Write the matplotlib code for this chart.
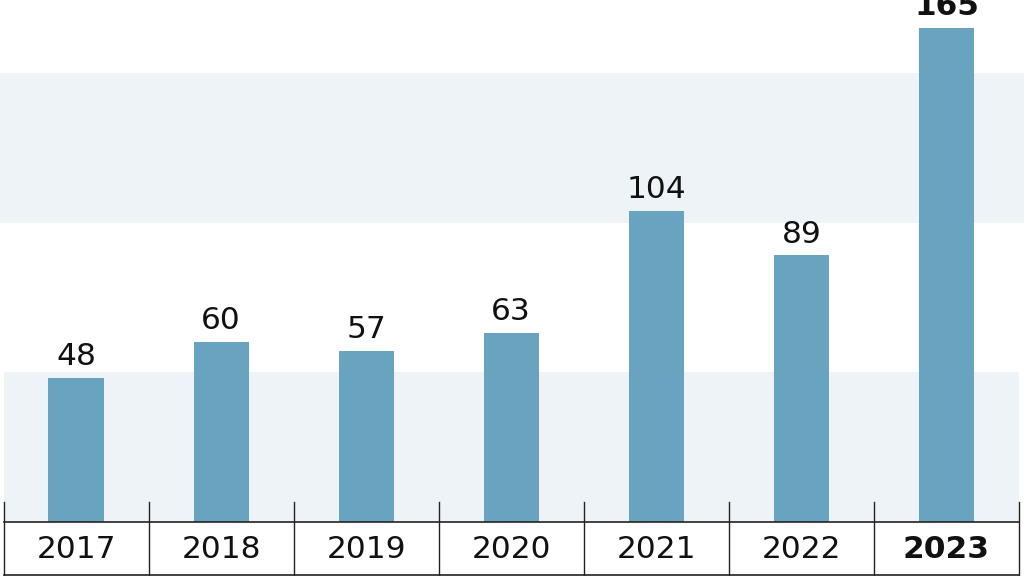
import matplotlib
matplotlib.use('Agg')
import matplotlib.pyplot as plt
from matplotlib.transforms import blended_transform_factory

years = ['2017', '2018', '2019', '2020', '2021', '2022', '2023']
values = [48, 60, 57, 63, 104, 89, 165]
bands = [(0, 50), (100, 150)]

BAR = '#68a3c0'
BAND = '#eef3f8'
LINE = '#222222'

plt.rcParams['font.family'] = ['DejaVu Sans']

fig = plt.figure(figsize=(10.24, 5.76), dpi=100)
ax = fig.add_axes([3.5 / 1024, 54 / 576, 1015.5 / 1024, 522 / 576])
ax.set_xlim(-0.5, len(years) - 0.5)
ax.set_ylim(0, 174.3)

# bottom band sits inside the table frame, upper band runs full width
for lo, hi in bands:
    if lo == 0:
        ax.axhspan(lo, hi, color=BAND, lw=0, zorder=0)
    else:
        ax.axhspan(lo, hi, xmin=-0.01, xmax=1.01, color=BAND, lw=0,
                   clip_on=False, zorder=0)

x = range(len(years))
ax.bar(x, values, width=0.38, color=BAR, zorder=2)

for i, v in enumerate(values):
    ax.annotate(str(v), (i, v), xytext=(0, 5), textcoords='offset points',
                ha='center', va='bottom', fontsize=22.5, color='#111111',
                fontweight='bold' if i == len(values) - 1 else 'normal',
                annotation_clip=False)

# category table under the baseline
tr = blended_transform_factory(ax.transData, ax.transAxes)
for i in range(len(years) + 1):
    ax.plot([i - 0.5, i - 0.5], [0.038, -0.104], color=LINE, lw=1.0,
            transform=tr, clip_on=False, zorder=3)
ax.plot([-0.5, len(years) - 0.5], [0, 0], color=LINE, lw=1.2, transform=tr,
        clip_on=False, zorder=3)
ax.plot([-0.5, len(years) - 0.5], [-0.1015, -0.1015], color=LINE, lw=1.2,
        transform=tr, clip_on=False, zorder=3)
for i, yr in enumerate(years):
    ax.text(i, -0.052, yr, transform=tr, ha='center', va='center', fontsize=22.5,
            color='#111111', fontweight='bold' if i == len(years) - 1 else 'normal')

ax.set_xticks([])
ax.set_yticks([])
for s in ax.spines.values():
    s.set_visible(False)
ax.patch.set_alpha(0)

fig.savefig('out.png', dpi=100)
